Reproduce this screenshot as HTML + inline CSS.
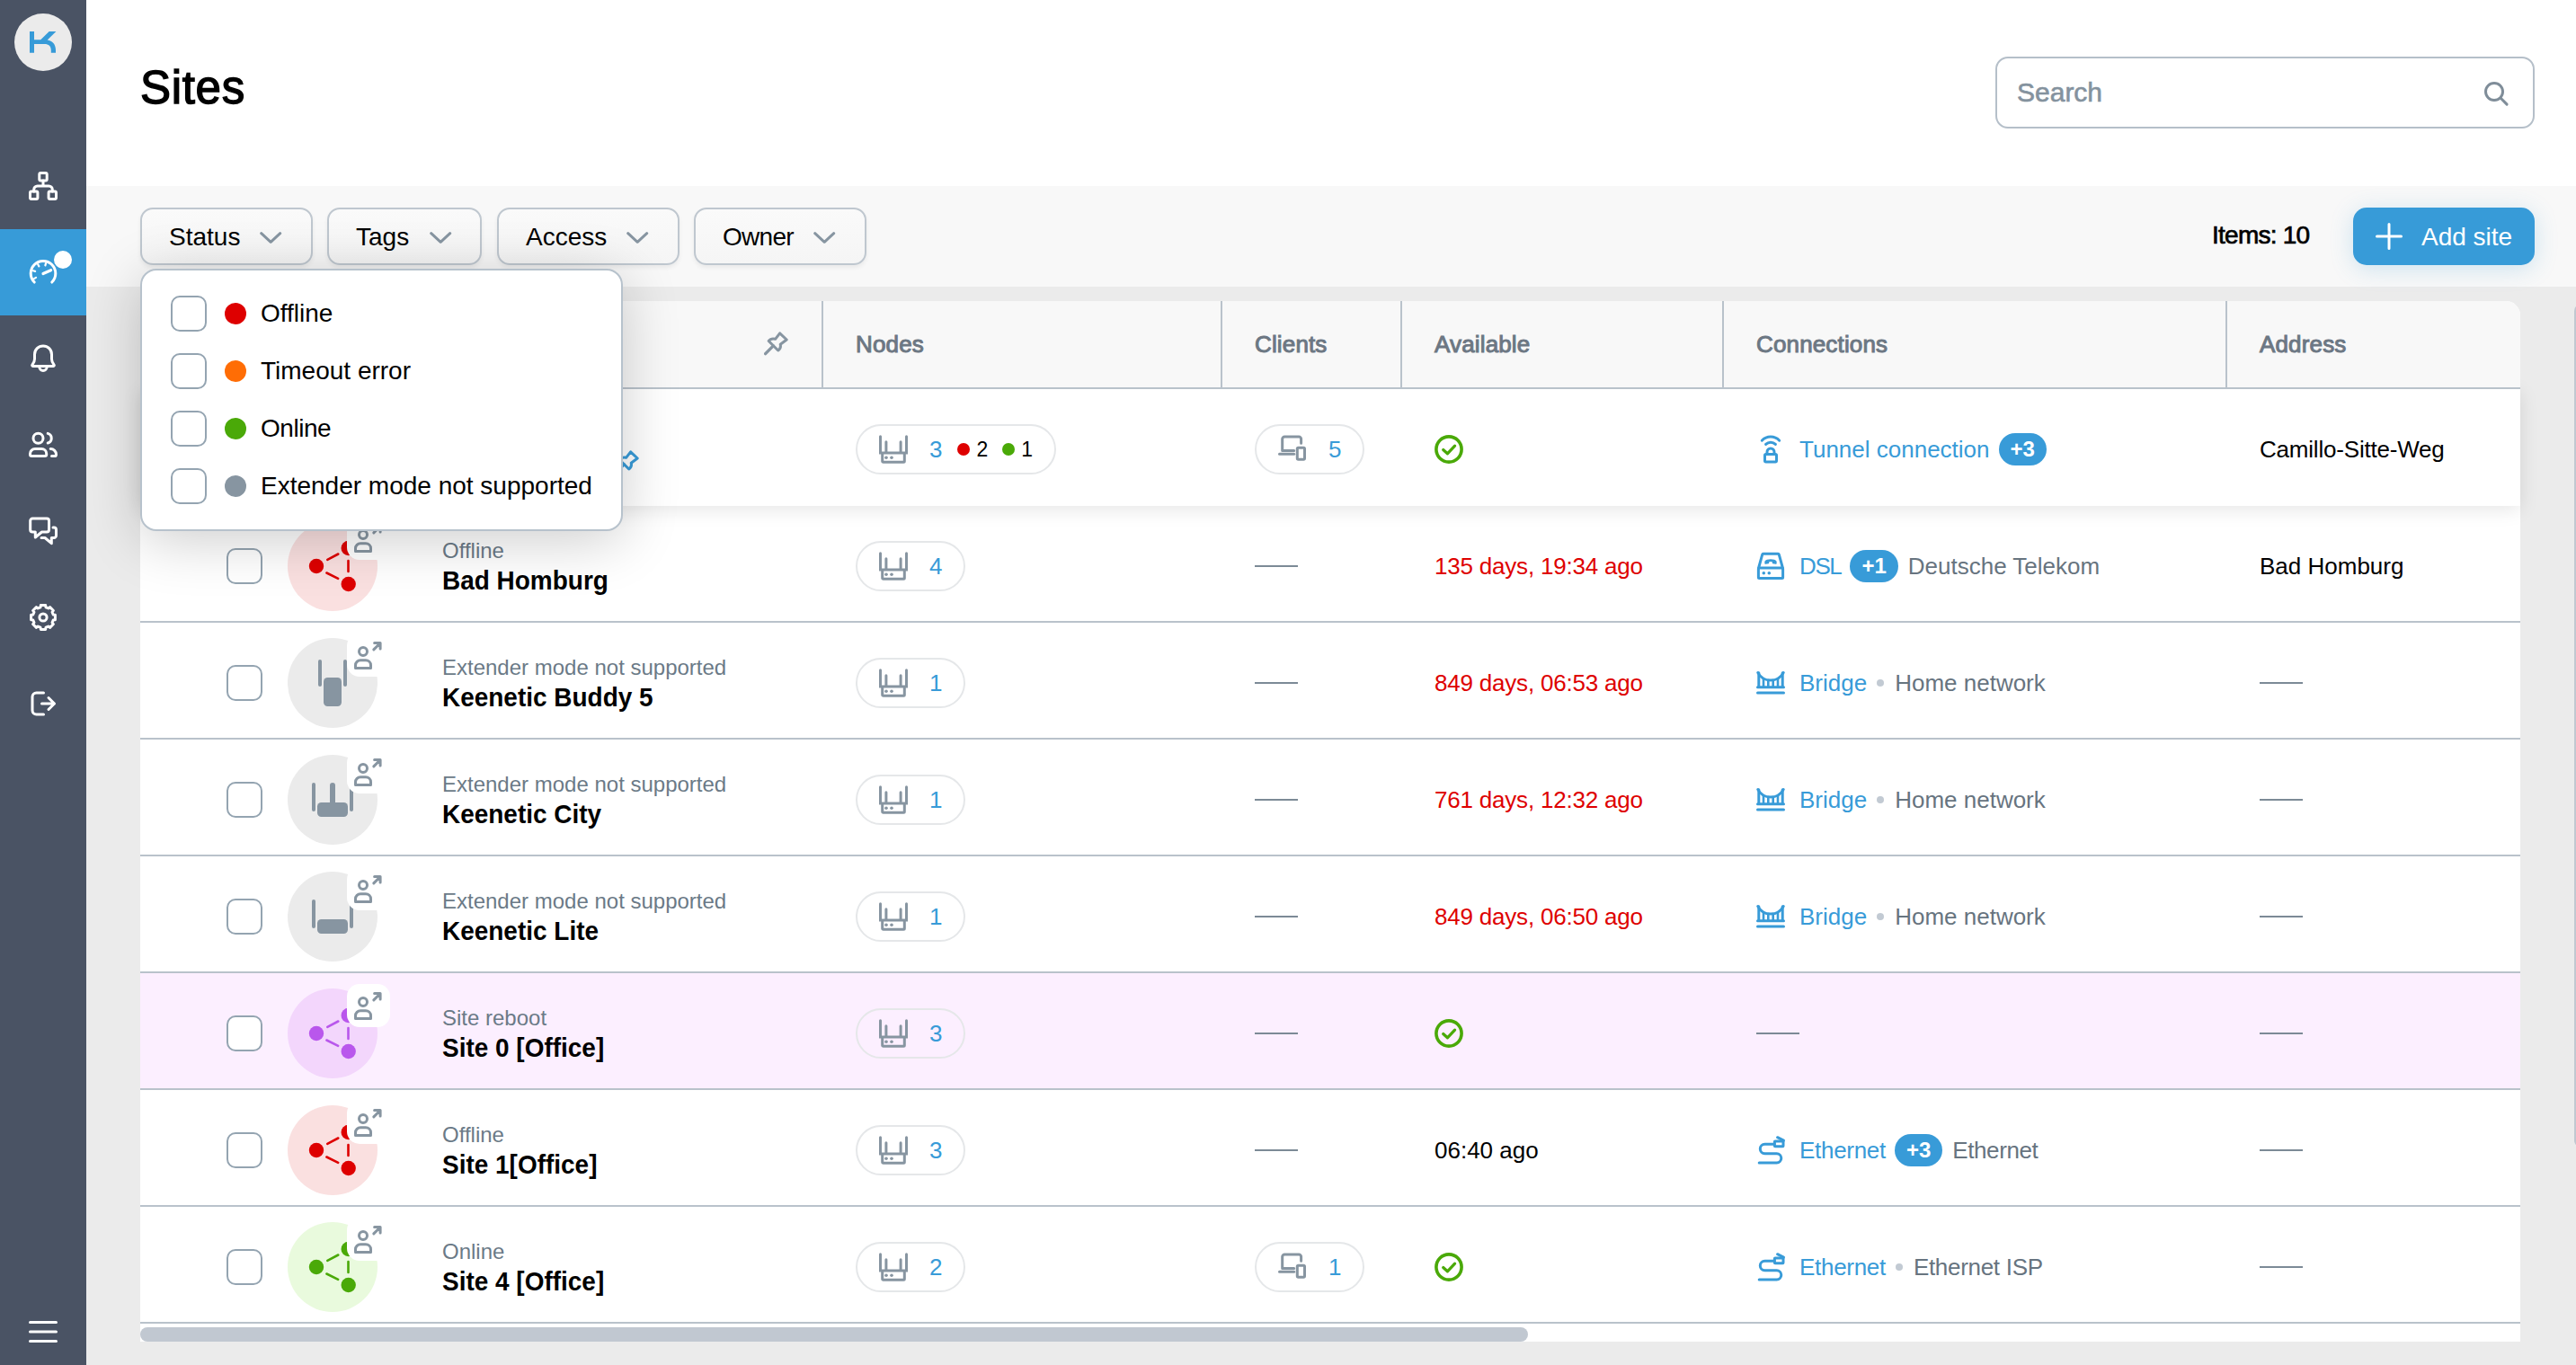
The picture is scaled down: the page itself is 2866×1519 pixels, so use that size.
<!DOCTYPE html>
<html lang="en"><head><meta charset="utf-8"><title>Sites</title>
<style>
*{box-sizing:border-box;margin:0;padding:0}
html,body{width:2866px;height:1519px;overflow:hidden}
body{background:#ebebeb;font-family:"Liberation Sans",sans-serif;color:#000;position:relative;-webkit-font-smoothing:antialiased}
.abs{position:absolute}
/* sidebar */
#side{position:absolute;left:0;top:0;width:96px;height:1519px;background:#4a5364}
#logo{position:absolute;left:16px;top:15px;width:64px;height:64px;border-radius:50%;background:#ebebeb}
.nav{position:absolute;left:0;width:96px;height:96px}
.nav svg{position:absolute;left:32px;top:32px}
.nav.on{background:#379bd8}
.ndot{position:absolute;left:60px;top:24px;width:20px;height:20px;border-radius:50%;background:#fff}
/* top */
#top{position:absolute;left:96px;top:0;width:2770px;height:207px;background:#fff}
h1{position:absolute;left:156px;top:68px;font-size:51px;line-height:60px;font-weight:normal;-webkit-text-stroke:1.4px #000;letter-spacing:.7px;white-space:nowrap}
#search{position:absolute;left:2220px;top:63px;width:600px;height:80px;border:2px solid #b5bfc9;border-radius:14px;background:#fff}
#search span{position:absolute;left:22px;top:18px;font-size:30px;line-height:40px;color:#84929e;-webkit-text-stroke:.6px #84929e;white-space:nowrap}
#search svg{position:absolute;left:540px;top:24px}
#bar{position:absolute;left:96px;top:207px;width:2770px;height:112px;background:#f8f8f8}
.fbtn{position:absolute;top:231px;height:64px;border:2px solid #bfc7cf;border-radius:14px;background:linear-gradient(#fafafa,#f5f5f5);box-shadow:0 3px 5px rgba(0,0,0,.06);font-size:28px;line-height:62px;white-space:nowrap;padding-left:30px}
.fbtn svg{position:absolute;top:24px}
#items{position:absolute;top:244px;left:2461px;font-size:28px;line-height:36px;-webkit-text-stroke:.7px #000;letter-spacing:-.75px;white-space:nowrap}
#add{position:absolute;left:2618px;top:231px;width:202px;height:64px;border-radius:15px;background:#379bd8;color:#fff;font-size:28px;line-height:64px;box-shadow:0 4px 26px rgba(55,155,216,.22);white-space:nowrap}
#add svg{position:absolute;left:24px;top:16px}
#add span{position:absolute;left:76px;top:1px}
/* table */
#tbl{position:absolute;left:156px;top:335px;width:2648px;height:1158px;background:#fff;border-radius:16px 16px 0 0}
#thead{position:absolute;z-index:5;left:0;top:0;width:2648px;height:98px;background:#f8f8f8;border-bottom:2px solid #b9c2cb;border-radius:16px 16px 0 0;overflow:hidden}
.th{position:absolute;top:0;height:96px;border-left:2px solid #b9c2cb;font-size:26px;line-height:96px;color:#6c7783;-webkit-text-stroke:1px #6c7783;letter-spacing:.15px;padding-left:36px;white-space:nowrap}
.row{position:absolute;left:0;width:2648px;height:130px;border-bottom:2px solid #b9c2cb;background:#fff}
.row.pin{box-shadow:0 4px 20px rgba(0,0,0,.1);z-index:3;border-bottom-color:transparent}
.row.rb{background:#fcefff}
.cell{position:absolute;top:6px;height:122px;display:flex;align-items:center;font-size:26px;white-space:nowrap}
.cb{position:absolute;left:96px;top:47px;width:40px;height:40px;border:2px solid #94a4b1;border-radius:10px;background:#fff}
.av{position:absolute;left:164px;top:17px;width:100px;height:100px;border-radius:50%}
.av svg{position:absolute;left:0;top:0}
.ob{position:absolute;left:230px;top:12px;width:48px;height:48px;border-radius:14px;background:#fff}
.ob svg{position:absolute;left:8px;top:8px}
.st{position:absolute;left:336px;top:36px;font-size:24px;line-height:28px;color:#6b7a87;white-space:nowrap}
.nm{position:absolute;left:336px;top:65px;font-size:30px;line-height:36px;font-weight:bold;transform:scaleX(.932);transform-origin:0 50%;white-space:nowrap}
.pill{display:flex;align-items:center;height:56px;border:2px solid #e5e7e9;border-radius:28px;padding:0 24px;font-size:26px}
.pill svg{margin-right:24px}
.pill .n{color:#389bd8}
.d{display:inline-block;width:14px;height:14px;border-radius:50%;margin:0 7px 0 16px}
.dash{display:block;width:48px;height:2px;background:#7c8a96}
.red{color:#de0000;letter-spacing:-.2px}
.sm{font-size:23px;color:#000}
.lnk{color:#389bd8;margin-left:16px}
.bdg{display:inline-block;height:36px;border-radius:18px;background:#389bd8;color:#fff;font-size:24px;font-weight:bold;line-height:36px;padding:0 13px;margin-left:10px}
.sub{color:#67747f;margin-left:11px}
.sep{display:inline-block;width:8px;height:8px;border-radius:50%;background:#c2cad3;margin:0 12px 0 11px}
.sep+.sub{margin-left:0}
/* dropdown */
#dd{position:absolute;left:156px;top:299px;width:537px;height:292px;border:2px solid #b7c2cc;border-radius:18px;background:#fff;box-shadow:0 10px 64px rgba(0,0,0,.2);z-index:10}
.opt{position:absolute;left:0;width:532px;height:64px;font-size:28px;line-height:64px;white-space:nowrap}
.opt i{position:absolute;left:32px;top:12px;width:40px;height:40px;border:2px solid #94a4b1;border-radius:10px;background:#fff}
.opt b{position:absolute;left:92px;top:20px;width:24px;height:24px;border-radius:50%}
.opt span{position:absolute;left:132px;top:0}
.opt span span{position:static}
#hs{position:absolute;left:0;top:1142px;width:1544px;height:16px;border-radius:8px;background:#c1c8d1}
#vs{position:absolute;left:2864px;top:338px;width:16px;height:939px;border-radius:8px;background:#c1c8d1}
</style></head>
<body>
<div id="side"><div id="logo"><svg width="64" height="64" viewBox="0 0 64 64" style="display:block;"><path fill="#379bd8" d="M17 20h5v9.200h7.200L38.700 20h7.700L36.700 29.400c5.600.800 9.300 4.800 9.300 11.400V43.700h-5.200v-2.600c0-4.600-2.600-7-7.300-7H22v9.600h-5z"/></svg></div><div class="nav" style="top:159px"><svg width="32" height="32" viewBox="0 0 32 32" style="display:block;"><g fill="none" stroke="#fff" stroke-width="3" stroke-linecap="round" stroke-linejoin="round"><rect x="11.8" y="1.5" width="8.4" height="8.4" rx="1.5"/><rect x="1.5" y="22.1" width="8.4" height="8.4" rx="1.5"/><rect x="22.1" y="22.1" width="8.4" height="8.4" rx="1.5"/><path d="M16 10v6M5.7 22v-2a4 4 0 0 1 4-4h12.6a4 4 0 0 1 4 4v2"/></g></svg></div><div class="nav on" style="top:255px"><svg width="32" height="32" viewBox="0 0 32 32" style="display:block;"><g fill="none" stroke="#fff" stroke-width="3" stroke-linecap="round" stroke-linejoin="round"><path d="M6.24 27.06A13.8 13.8 0 1 1 25.76 27.06"/><path d="M5.95 23.10L8.03 21.90" stroke-width="2.2"/><path d="M4.80 14.30L7.11 14.92" stroke-width="2.2"/><path d="M10.20 7.25L11.40 9.33" stroke-width="2.2"/><path d="M19.00 6.10L18.38 8.41" stroke-width="2.2"/><path d="M16 17.5L24.60 13.70" stroke-width="3.2"/></g></svg><div class="ndot"></div></div><div class="nav" style="top:351px"><svg width="32" height="32" viewBox="0 0 32 32" style="display:block;"><g fill="none" stroke="#fff" stroke-width="3" stroke-linecap="round" stroke-linejoin="round"><path d="M16 1.9a9.5 9.5 0 0 0-9.5 9.5v5c0 3-1.2 5-2.6 6.6a.9.9 0 0 0 .7 1.5h22.8a.9.9 0 0 0 .7-1.5c-1.4-1.600-2.600-3.600-2.600-6.600v-5a9.5 9.5 0 0 0-9.5-9.5z"/><path d="M11.800 25.200a4.200 4.200 0 0 0 8.400 0"/></g></svg></div><div class="nav" style="top:447px"><svg width="32" height="32" viewBox="0 0 32 32" style="display:block;"><g fill="none" stroke="#fff" stroke-width="3" stroke-linecap="round" stroke-linejoin="round"><circle cx="10.5" cy="8.7" r="5.5"/><path d="M3.300 28.500a1.800 1.800 0 0 1-1.800-1.800v-.8a5.400 5.400 0 0 1 5.400-5.400h7.400a5.400 5.400 0 0 1 5.400 5.400v.8a1.800 1.800 0 0 1-1.800 1.800z"/><path d="M21.200 3.400a5.500 5.500 0 0 1 0 10.600"/><path d="M24.200 20.600a6.200 6.200 0 0 1 6.300 6.300a1.600 1.600 0 0 1-1.600 1.600h-3.400"/></g></svg></div><div class="nav" style="top:543px"><svg width="32" height="32" viewBox="0 0 32 32" style="display:block;"><g fill="none" stroke="#fff" stroke-width="3" stroke-linecap="round" stroke-linejoin="round"><path d="M7.300 17H4.200a2.500 2.500 0 0 1-2.500-2.500V4.500a2.500 2.500 0 0 1 2.500-2.500h15.800a2.500 2.500 0 0 1 2.500 2.500v10a2.500 2.500 0 0 1-2.500 2.500h-5.500l-7.200 6z"/><path d="M27 12h1a2.500 2.500 0 0 1 2.500 2.500v6.500a2.500 2.500 0 0 1-2.500 2.500h-2.700v6.200l-7.300-6.200h-4"/></g></svg></div><div class="nav" style="top:639px"><svg width="32" height="32" viewBox="0 0 32 32" style="display:block;"><g fill="none" stroke="#fff" stroke-width="3" stroke-linecap="round" stroke-linejoin="round"><path d="M13.00 4.80L13.27 2.58L18.73 2.58L19.00 4.80L21.80 5.95L23.56 4.58L27.42 8.44L26.05 10.20L27.20 13.00L29.42 13.27L29.42 18.73L27.20 19.00L26.05 21.80L27.42 23.56L23.56 27.42L21.80 26.05L19.00 27.20L18.73 29.42L13.27 29.42L13.00 27.20L10.20 26.05L8.44 27.42L4.58 23.56L5.95 21.80L4.80 19.00L2.58 18.73L2.58 13.27L4.80 13.00L5.95 10.20L4.58 8.44L8.44 4.58L10.20 5.95z"/><circle cx="16" cy="16" r="4.1"/></g></svg></div><div class="nav" style="top:735px"><svg width="32" height="32" viewBox="0 0 32 32" style="display:block;"><g fill="none" stroke="#fff" stroke-width="3" stroke-linecap="round" stroke-linejoin="round"><path d="M16.500 4H8.500a4.500 4.500 0 0 0-4.500 4.500v15a4.500 4.500 0 0 0 4.500 4.500h8"/><path d="M14.500 16h14M22 9.500l6.500 6.500-6.500 6.500"/></g></svg></div><div class="nav" style="top:1434px"><svg width="32" height="32" viewBox="0 0 32 32" style="display:block;"><g fill="none" stroke="#fff" stroke-width="3" stroke-linecap="round" stroke-linejoin="round"><path d="M1.500 5.500h29M1.500 16h29M1.500 26.500h29"/></g></svg></div></div>
<div id="top"></div><h1>Sites</h1><div id="search"><span>Search</span><svg width="32" height="32" viewBox="0 0 32 32" style="display:block;"><g fill="none" stroke="#7f8d99" stroke-width="3" stroke-linecap="round" stroke-linejoin="round"><circle cx="13" cy="13" r="9.500"/><path d="M20.300 20.300l6.800 6.800"/></g></svg></div><div id="bar"></div>
<div class="fbtn" style="left:156px;width:192px">Status<span style="position:absolute;left:130px;top:0"><svg width="25" height="13" viewBox="0 0 25 13" style="display:block;position:absolute;top:25px;left:1px;"><g fill="none" stroke="#8795a1" stroke-width="3" stroke-linecap="round" stroke-linejoin="round"><path d="M1.700 1.700l10.500 9.600 10.500-9.600"/></g></svg></span></div><div class="fbtn" style="left:364px;width:172px">Tags<span style="position:absolute;left:111px;top:0"><svg width="25" height="13" viewBox="0 0 25 13" style="display:block;position:absolute;top:25px;left:1px;"><g fill="none" stroke="#8795a1" stroke-width="3" stroke-linecap="round" stroke-linejoin="round"><path d="M1.700 1.700l10.500 9.600 10.500-9.600"/></g></svg></span></div><div class="fbtn" style="left:553px;width:203px">Access<span style="position:absolute;left:141px;top:0"><svg width="25" height="13" viewBox="0 0 25 13" style="display:block;position:absolute;top:25px;left:1px;"><g fill="none" stroke="#8795a1" stroke-width="3" stroke-linecap="round" stroke-linejoin="round"><path d="M1.700 1.700l10.500 9.600 10.500-9.600"/></g></svg></span></div><div class="fbtn" style="left:772px;width:192px"><span style="letter-spacing:-.7px">Owner</span><span style="position:absolute;left:130px;top:0"><svg width="25" height="13" viewBox="0 0 25 13" style="display:block;position:absolute;top:25px;left:1px;"><g fill="none" stroke="#8795a1" stroke-width="3" stroke-linecap="round" stroke-linejoin="round"><path d="M1.700 1.700l10.500 9.600 10.500-9.600"/></g></svg></span></div><div id="items">Items: 10</div><div id="add"><svg width="32" height="32" viewBox="0 0 32 32" style="display:block;"><g fill="none" stroke="#fff" stroke-width="3" stroke-linecap="round" stroke-linejoin="round"><path d="M16 2.500v27M2.500 16h27"/></g></svg><span>Add site</span></div>
<div id="tbl"><div id="thead"><div class="abs" style="left:694px;top:34px"><svg width="28" height="28" viewBox="0 0 28 28" style="display:block;"><g fill="none" stroke="#8795a1" stroke-width="3" stroke-linecap="round" stroke-linejoin="round"><path d="M17.600 1.800l7.600 7.200-7 5.200c.700 2.700-.200 5.200-2.500 6.800L5.200 10.500c1.800-2.400 4.800-2.900 7.400-2.200z"/><path d="M10.300 15.900L1.600 24.600" stroke-width="3.4"/></g></svg></div><div class="th" style="left:758px;width:444px">Nodes</div><div class="th" style="left:1202px;width:200px">Clients</div><div class="th" style="left:1402px;width:358px">Available</div><div class="th" style="left:1760px;width:560px">Connections</div><div class="th" style="left:2320px;width:328px">Address</div></div><div class="row pin" style="top:98px"><div class="cb"></div><div class="av" style="background:#e9fadd"><svg width="100" height="100" viewBox="0 0 100 100" style="display:block;"><g fill="#4aa908"><circle cx="32" cy="50" r="8.200"/><circle cx="67.700" cy="30" r="8.200"/><circle cx="67.700" cy="70" r="8.200"/></g><g stroke="#4aa908" stroke-width="2.600" stroke-linecap="round"><path d="M44.300 42.800l12-6.300M43.400 57.500l12.800 6.300M67.500 44v12"/></g></svg></div><div class="ob"><svg width="32" height="32" viewBox="0 0 32 32" style="display:block;"><g fill="none" stroke="#8795a1" stroke-width="3" stroke-linecap="round" stroke-linejoin="round"><circle cx="10" cy="11.900" r="4.500"/><path d="M1.500 30.500v-3.200a5.600 5.600 0 0 1 5.600-5.600h5.800a5.600 5.600 0 0 1 5.600 5.600v3.200z"/><path d="M21.800 9.900l7.200-7.200M22.600 2.600h6.500v6.500"/></g></svg></div><div class="abs" style="left:528px;top:68px"><svg width="28" height="28" viewBox="0 0 28 28" style="display:block;"><g fill="none" stroke="#389bd8" stroke-width="3" stroke-linecap="round" stroke-linejoin="round"><path d="M17.600 1.800l7.600 7.200-7 5.200c.700 2.700-.200 5.200-2.500 6.800L5.200 10.500c1.800-2.400 4.800-2.900 7.400-2.200z"/><path d="M10.300 15.900L1.600 24.600" stroke-width="3.4"/></g></svg></div><div class="cell" style="left:796px"><div class="pill"><svg width="32" height="32" viewBox="0 0 32 32" style="display:block;"><g fill="none" stroke="#8795a1" stroke-width="3" stroke-linecap="round" stroke-linejoin="round"><path d="M1.500 1.700v18.300h29V1.700M7.900 7.700v12M24.100 7.700v12" stroke-linejoin="miter"/><path d="M3.700 20v9.200a1 1 0 0 0 1 1h22.600a1 1 0 0 0 1-1V20" stroke-linecap="butt"/></g><circle cx="8" cy="25.200" r="1.800" fill="#8795a1"/><circle cx="14" cy="25.200" r="1.800" fill="#8795a1"/></svg><span class="n">3</span><span class="d" style="background:#de0000;margin-left:17px"></span><span class="sm">2</span><span class="d" style="background:#4aa908"></span><span class="sm">1</span></div></div><div class="cell" style="left:1240px"><div class="pill"><svg width="32" height="32" viewBox="0 0 32 32" style="display:block;"><g fill="none" stroke="#8795a1" stroke-width="3" stroke-linecap="round" stroke-linejoin="round"><path d="M25.600 9.300V4.500a2.500 2.500 0 0 0-2.500-2.500H7.200a2.500 2.500 0 0 0-2.500 2.500v12.900h13"/><path d="M1.500 21.200h16.200"/><rect x="21.300" y="14.300" width="8.200" height="13" rx="1.200"/></g></svg><span class="n">5</span></div></div><div class="cell" style="left:1440px"><svg width="32" height="32" viewBox="0 0 32 32" style="display:block;"><g fill="none" stroke="#4aa908" stroke-width="3.6" stroke-linecap="round" stroke-linejoin="round"><circle cx="16" cy="16" r="14.100"/><path d="M9.700 16.500l4.700 4.300 8.200-8.700" stroke-width="3.200"/></g></svg></div><div class="cell" style="left:1798px"><svg width="32" height="32" viewBox="0 0 32 32" style="display:block;"><g fill="none" stroke="#389bd8" stroke-width="3" stroke-linecap="round" stroke-linejoin="round"><path d="M6.300 6.200a13.500 13.500 0 0 1 19.400 0"/><path d="M10.600 10.400a7.800 7.800 0 0 1 10.800 0"/><rect x="9.500" y="21.500" width="13" height="8.500" rx="1.200"/><path d="M12 21.300v-2.300a4 4 0 0 1 8 0v2.300"/></g></svg><span class="lnk">Tunnel connection</span><span class="bdg">+3</span></div><div class="cell" style="left:2358px"><span style="letter-spacing:-.2px">Camillo-Sitte-Weg</span></div></div><div class="row " style="top:228px"><div class="cb"></div><div class="av" style="background:#fae0e0"><svg width="100" height="100" viewBox="0 0 100 100" style="display:block;"><g fill="#de0000"><circle cx="32" cy="50" r="8.200"/><circle cx="67.700" cy="30" r="8.200"/><circle cx="67.700" cy="70" r="8.200"/></g><g stroke="#de0000" stroke-width="2.600" stroke-linecap="round"><path d="M44.300 42.800l12-6.300M43.400 57.500l12.800 6.300M67.500 44v12"/></g></svg></div><div class="ob"><svg width="32" height="32" viewBox="0 0 32 32" style="display:block;"><g fill="none" stroke="#8795a1" stroke-width="3" stroke-linecap="round" stroke-linejoin="round"><circle cx="10" cy="11.900" r="4.500"/><path d="M1.500 30.500v-3.200a5.600 5.600 0 0 1 5.600-5.600h5.800a5.600 5.600 0 0 1 5.600 5.600v3.200z"/><path d="M21.800 9.900l7.200-7.200M22.600 2.600h6.500v6.500"/></g></svg></div><div class="st">Offline</div><div class="nm">Bad Homburg</div><div class="cell" style="left:796px"><div class="pill"><svg width="32" height="32" viewBox="0 0 32 32" style="display:block;"><g fill="none" stroke="#8795a1" stroke-width="3" stroke-linecap="round" stroke-linejoin="round"><path d="M1.500 1.700v18.300h29V1.700M7.900 7.700v12M24.100 7.700v12" stroke-linejoin="miter"/><path d="M3.700 20v9.200a1 1 0 0 0 1 1h22.600a1 1 0 0 0 1-1V20" stroke-linecap="butt"/></g><circle cx="8" cy="25.200" r="1.800" fill="#8795a1"/><circle cx="14" cy="25.200" r="1.800" fill="#8795a1"/></svg><span class="n">4</span></div></div><div class="cell" style="left:1240px"><span class="dash"></span></div><div class="cell" style="left:1440px"><span class="red">135 days, 19:34 ago</span></div><div class="cell" style="left:1798px"><svg width="32" height="32" viewBox="0 0 32 32" style="display:block;"><g fill="none" stroke="#389bd8" stroke-width="3" stroke-linecap="round" stroke-linejoin="round"><path d="M2.600 18L6.700 3.200a1.200 1.200 0 0 1 1.200-.900h16.200a1.200 1.200 0 0 1 1.200.900L29.400 18"/><rect x="2.400" y="18" width="27.200" height="11.600" rx="1"/><path d="M10.200 13c-.500-2 .300-3 2-3.500 2.500-.700 5.100-.700 7.600 0 1.700.500 2.500 1.500 2 3.500l-3.200-.600-.300-1.800c-1.500-.400-3.100-.400-4.600 0l-.300 1.800z" stroke-width="1.600" fill="#389bd8"/></g><circle cx="8.300" cy="23.800" r="1.800" fill="#389bd8"/><circle cx="14.300" cy="23.800" r="1.800" fill="#389bd8"/></svg><span class="lnk"><span style="letter-spacing:-1.4px">DSL</span></span><span class="bdg">+1</span><span class="sub">Deutsche Telekom</span></div><div class="cell" style="left:2358px">Bad Homburg</div></div><div class="row " style="top:358px"><div class="cb"></div><div class="av" style="background:#ebebeb"><svg width="100" height="100" viewBox="0 0 100 100" style="display:block;"><g fill="#8795a1"><rect x="34" y="24" width="4" height="30" rx="2"/><rect x="62" y="24" width="4" height="30" rx="2"/><rect x="40" y="44" width="20" height="32" rx="4.500"/></g></svg></div><div class="ob"><svg width="32" height="32" viewBox="0 0 32 32" style="display:block;"><g fill="none" stroke="#8795a1" stroke-width="3" stroke-linecap="round" stroke-linejoin="round"><circle cx="10" cy="11.900" r="4.500"/><path d="M1.500 30.500v-3.200a5.600 5.600 0 0 1 5.600-5.600h5.800a5.600 5.600 0 0 1 5.600 5.600v3.200z"/><path d="M21.800 9.900l7.200-7.200M22.600 2.600h6.500v6.500"/></g></svg></div><div class="st">Extender mode not supported</div><div class="nm">Keenetic Buddy 5</div><div class="cell" style="left:796px"><div class="pill"><svg width="32" height="32" viewBox="0 0 32 32" style="display:block;"><g fill="none" stroke="#8795a1" stroke-width="3" stroke-linecap="round" stroke-linejoin="round"><path d="M1.500 1.700v18.300h29V1.700M7.900 7.700v12M24.100 7.700v12" stroke-linejoin="miter"/><path d="M3.700 20v9.200a1 1 0 0 0 1 1h22.600a1 1 0 0 0 1-1V20" stroke-linecap="butt"/></g><circle cx="8" cy="25.200" r="1.800" fill="#8795a1"/><circle cx="14" cy="25.200" r="1.800" fill="#8795a1"/></svg><span class="n">1</span></div></div><div class="cell" style="left:1240px"><span class="dash"></span></div><div class="cell" style="left:1440px"><span class="red">849 days, 06:53 ago</span></div><div class="cell" style="left:1798px"><svg width="32" height="32" viewBox="0 0 32 32" style="display:block;"><g fill="none" stroke="#389bd8" stroke-width="3" stroke-linecap="round" stroke-linejoin="round"><path d="M1.500 27h29M1.500 20.700h29" /><path d="M2.800 4.800v15.500M29.200 4.800v15.500"/><path d="M1.800 4.600C5 10.500 10 13 16 13s11-2.500 14.200-8.400"/><path d="M8 11v9.500M13.300 13v7.500M18.700 13v7.500M24 11v9.500" stroke-width="2.600"/></g></svg><span class="lnk">Bridge</span><span class="sep"></span><span class="sub">Home network</span></div><div class="cell" style="left:2358px"><span class="dash"></span></div></div><div class="row " style="top:488px"><div class="cb"></div><div class="av" style="background:#ebebeb"><svg width="100" height="100" viewBox="0 0 100 100" style="display:block;"><g fill="#8795a1"><rect x="27" y="31" width="4" height="32" rx="2"/><rect x="69" y="31" width="4" height="32" rx="2"/><rect x="47" y="31" width="6" height="26" rx="3"/><rect x="33" y="53" width="34" height="16" rx="4.500"/></g></svg></div><div class="ob"><svg width="32" height="32" viewBox="0 0 32 32" style="display:block;"><g fill="none" stroke="#8795a1" stroke-width="3" stroke-linecap="round" stroke-linejoin="round"><circle cx="10" cy="11.900" r="4.500"/><path d="M1.500 30.500v-3.200a5.600 5.600 0 0 1 5.600-5.600h5.800a5.600 5.600 0 0 1 5.600 5.600v3.200z"/><path d="M21.800 9.900l7.200-7.200M22.600 2.600h6.500v6.500"/></g></svg></div><div class="st">Extender mode not supported</div><div class="nm">Keenetic City</div><div class="cell" style="left:796px"><div class="pill"><svg width="32" height="32" viewBox="0 0 32 32" style="display:block;"><g fill="none" stroke="#8795a1" stroke-width="3" stroke-linecap="round" stroke-linejoin="round"><path d="M1.500 1.700v18.300h29V1.700M7.900 7.700v12M24.100 7.700v12" stroke-linejoin="miter"/><path d="M3.700 20v9.200a1 1 0 0 0 1 1h22.600a1 1 0 0 0 1-1V20" stroke-linecap="butt"/></g><circle cx="8" cy="25.200" r="1.800" fill="#8795a1"/><circle cx="14" cy="25.200" r="1.800" fill="#8795a1"/></svg><span class="n">1</span></div></div><div class="cell" style="left:1240px"><span class="dash"></span></div><div class="cell" style="left:1440px"><span class="red">761 days, 12:32 ago</span></div><div class="cell" style="left:1798px"><svg width="32" height="32" viewBox="0 0 32 32" style="display:block;"><g fill="none" stroke="#389bd8" stroke-width="3" stroke-linecap="round" stroke-linejoin="round"><path d="M1.500 27h29M1.500 20.700h29" /><path d="M2.800 4.800v15.500M29.200 4.800v15.500"/><path d="M1.800 4.600C5 10.500 10 13 16 13s11-2.500 14.200-8.400"/><path d="M8 11v9.500M13.300 13v7.500M18.700 13v7.500M24 11v9.500" stroke-width="2.600"/></g></svg><span class="lnk">Bridge</span><span class="sep"></span><span class="sub">Home network</span></div><div class="cell" style="left:2358px"><span class="dash"></span></div></div><div class="row " style="top:618px"><div class="cb"></div><div class="av" style="background:#ebebeb"><svg width="100" height="100" viewBox="0 0 100 100" style="display:block;"><g fill="#8795a1"><rect x="27" y="31" width="4" height="32" rx="2"/><rect x="69" y="31" width="4" height="32" rx="2"/><rect x="33" y="53" width="34" height="16" rx="4.500"/></g></svg></div><div class="ob"><svg width="32" height="32" viewBox="0 0 32 32" style="display:block;"><g fill="none" stroke="#8795a1" stroke-width="3" stroke-linecap="round" stroke-linejoin="round"><circle cx="10" cy="11.900" r="4.500"/><path d="M1.500 30.500v-3.200a5.600 5.600 0 0 1 5.600-5.600h5.800a5.600 5.600 0 0 1 5.600 5.600v3.200z"/><path d="M21.800 9.900l7.200-7.200M22.600 2.600h6.500v6.500"/></g></svg></div><div class="st">Extender mode not supported</div><div class="nm">Keenetic Lite</div><div class="cell" style="left:796px"><div class="pill"><svg width="32" height="32" viewBox="0 0 32 32" style="display:block;"><g fill="none" stroke="#8795a1" stroke-width="3" stroke-linecap="round" stroke-linejoin="round"><path d="M1.500 1.700v18.300h29V1.700M7.900 7.700v12M24.100 7.700v12" stroke-linejoin="miter"/><path d="M3.700 20v9.200a1 1 0 0 0 1 1h22.600a1 1 0 0 0 1-1V20" stroke-linecap="butt"/></g><circle cx="8" cy="25.200" r="1.800" fill="#8795a1"/><circle cx="14" cy="25.200" r="1.800" fill="#8795a1"/></svg><span class="n">1</span></div></div><div class="cell" style="left:1240px"><span class="dash"></span></div><div class="cell" style="left:1440px"><span class="red">849 days, 06:50 ago</span></div><div class="cell" style="left:1798px"><svg width="32" height="32" viewBox="0 0 32 32" style="display:block;"><g fill="none" stroke="#389bd8" stroke-width="3" stroke-linecap="round" stroke-linejoin="round"><path d="M1.500 27h29M1.500 20.700h29" /><path d="M2.800 4.800v15.500M29.200 4.800v15.500"/><path d="M1.800 4.600C5 10.500 10 13 16 13s11-2.500 14.200-8.400"/><path d="M8 11v9.500M13.300 13v7.500M18.700 13v7.500M24 11v9.500" stroke-width="2.600"/></g></svg><span class="lnk">Bridge</span><span class="sep"></span><span class="sub">Home network</span></div><div class="cell" style="left:2358px"><span class="dash"></span></div></div><div class="row rb" style="top:748px"><div class="cb"></div><div class="av" style="background:#f3d6fc"><svg width="100" height="100" viewBox="0 0 100 100" style="display:block;"><g fill="#b957ec"><circle cx="32" cy="50" r="8.200"/><circle cx="67.700" cy="30" r="8.200"/><circle cx="67.700" cy="70" r="8.200"/></g><g stroke="#b957ec" stroke-width="2.600" stroke-linecap="round"><path d="M44.300 42.800l12-6.300M43.400 57.500l12.800 6.300M67.500 44v12"/></g></svg></div><div class="ob"><svg width="32" height="32" viewBox="0 0 32 32" style="display:block;"><g fill="none" stroke="#8795a1" stroke-width="3" stroke-linecap="round" stroke-linejoin="round"><circle cx="10" cy="11.900" r="4.500"/><path d="M1.500 30.500v-3.200a5.600 5.600 0 0 1 5.600-5.600h5.800a5.600 5.600 0 0 1 5.600 5.600v3.200z"/><path d="M21.800 9.900l7.200-7.200M22.600 2.600h6.500v6.500"/></g></svg></div><div class="st">Site reboot</div><div class="nm">Site 0 [Office]</div><div class="cell" style="left:796px"><div class="pill"><svg width="32" height="32" viewBox="0 0 32 32" style="display:block;"><g fill="none" stroke="#8795a1" stroke-width="3" stroke-linecap="round" stroke-linejoin="round"><path d="M1.500 1.700v18.300h29V1.700M7.900 7.700v12M24.100 7.700v12" stroke-linejoin="miter"/><path d="M3.700 20v9.200a1 1 0 0 0 1 1h22.600a1 1 0 0 0 1-1V20" stroke-linecap="butt"/></g><circle cx="8" cy="25.200" r="1.800" fill="#8795a1"/><circle cx="14" cy="25.200" r="1.800" fill="#8795a1"/></svg><span class="n">3</span></div></div><div class="cell" style="left:1240px"><span class="dash"></span></div><div class="cell" style="left:1440px"><svg width="32" height="32" viewBox="0 0 32 32" style="display:block;"><g fill="none" stroke="#4aa908" stroke-width="3.6" stroke-linecap="round" stroke-linejoin="round"><circle cx="16" cy="16" r="14.100"/><path d="M9.700 16.500l4.700 4.300 8.200-8.700" stroke-width="3.200"/></g></svg></div><div class="cell" style="left:1798px"><span class="dash"></span></div><div class="cell" style="left:2358px"><span class="dash"></span></div></div><div class="row " style="top:878px"><div class="cb"></div><div class="av" style="background:#fae0e0"><svg width="100" height="100" viewBox="0 0 100 100" style="display:block;"><g fill="#de0000"><circle cx="32" cy="50" r="8.200"/><circle cx="67.700" cy="30" r="8.200"/><circle cx="67.700" cy="70" r="8.200"/></g><g stroke="#de0000" stroke-width="2.600" stroke-linecap="round"><path d="M44.300 42.800l12-6.300M43.400 57.500l12.800 6.300M67.500 44v12"/></g></svg></div><div class="ob"><svg width="32" height="32" viewBox="0 0 32 32" style="display:block;"><g fill="none" stroke="#8795a1" stroke-width="3" stroke-linecap="round" stroke-linejoin="round"><circle cx="10" cy="11.900" r="4.500"/><path d="M1.500 30.500v-3.200a5.600 5.600 0 0 1 5.600-5.600h5.800a5.600 5.600 0 0 1 5.600 5.600v3.200z"/><path d="M21.800 9.900l7.200-7.200M22.600 2.600h6.500v6.500"/></g></svg></div><div class="st">Offline</div><div class="nm">Site 1[Office]</div><div class="cell" style="left:796px"><div class="pill"><svg width="32" height="32" viewBox="0 0 32 32" style="display:block;"><g fill="none" stroke="#8795a1" stroke-width="3" stroke-linecap="round" stroke-linejoin="round"><path d="M1.500 1.700v18.300h29V1.700M7.900 7.700v12M24.100 7.700v12" stroke-linejoin="miter"/><path d="M3.700 20v9.200a1 1 0 0 0 1 1h22.600a1 1 0 0 0 1-1V20" stroke-linecap="butt"/></g><circle cx="8" cy="25.200" r="1.800" fill="#8795a1"/><circle cx="14" cy="25.200" r="1.800" fill="#8795a1"/></svg><span class="n">3</span></div></div><div class="cell" style="left:1240px"><span class="dash"></span></div><div class="cell" style="left:1440px">06:40 ago</div><div class="cell" style="left:1798px"><svg width="32" height="32" viewBox="0 0 32 32" style="display:block;"><g fill="none" stroke="#389bd8" stroke-width="3" stroke-linecap="round" stroke-linejoin="round"><path d="M3.200 29.900H22.700a5.100 5.100 0 0 0 0-10.200H9.500a5.200 5.200 0 0 1 0-10.400H19"/><rect x="20.400" y="6" width="9.600" height="5.800" rx=".600"/><path d="M23.600 1.700l6.800 3.500"/></g></svg><span class="lnk"><span style="letter-spacing:-.3px">Ethernet</span></span><span class="bdg">+3</span><span class="sub"><span style="letter-spacing:-.4px">Ethernet</span></span></div><div class="cell" style="left:2358px"><span class="dash"></span></div></div><div class="row " style="top:1008px"><div class="cb"></div><div class="av" style="background:#e9fadd"><svg width="100" height="100" viewBox="0 0 100 100" style="display:block;"><g fill="#4aa908"><circle cx="32" cy="50" r="8.200"/><circle cx="67.700" cy="30" r="8.200"/><circle cx="67.700" cy="70" r="8.200"/></g><g stroke="#4aa908" stroke-width="2.600" stroke-linecap="round"><path d="M44.300 42.800l12-6.300M43.400 57.500l12.800 6.300M67.500 44v12"/></g></svg></div><div class="ob"><svg width="32" height="32" viewBox="0 0 32 32" style="display:block;"><g fill="none" stroke="#8795a1" stroke-width="3" stroke-linecap="round" stroke-linejoin="round"><circle cx="10" cy="11.900" r="4.500"/><path d="M1.500 30.500v-3.200a5.600 5.600 0 0 1 5.600-5.600h5.800a5.600 5.600 0 0 1 5.600 5.600v3.200z"/><path d="M21.800 9.900l7.200-7.200M22.600 2.600h6.500v6.500"/></g></svg></div><div class="st">Online</div><div class="nm">Site 4 [Office]</div><div class="cell" style="left:796px"><div class="pill"><svg width="32" height="32" viewBox="0 0 32 32" style="display:block;"><g fill="none" stroke="#8795a1" stroke-width="3" stroke-linecap="round" stroke-linejoin="round"><path d="M1.500 1.700v18.300h29V1.700M7.900 7.700v12M24.100 7.700v12" stroke-linejoin="miter"/><path d="M3.700 20v9.200a1 1 0 0 0 1 1h22.600a1 1 0 0 0 1-1V20" stroke-linecap="butt"/></g><circle cx="8" cy="25.200" r="1.800" fill="#8795a1"/><circle cx="14" cy="25.200" r="1.800" fill="#8795a1"/></svg><span class="n">2</span></div></div><div class="cell" style="left:1240px"><div class="pill"><svg width="32" height="32" viewBox="0 0 32 32" style="display:block;"><g fill="none" stroke="#8795a1" stroke-width="3" stroke-linecap="round" stroke-linejoin="round"><path d="M25.600 9.300V4.500a2.500 2.500 0 0 0-2.500-2.500H7.200a2.500 2.500 0 0 0-2.500 2.500v12.900h13"/><path d="M1.500 21.200h16.200"/><rect x="21.300" y="14.300" width="8.200" height="13" rx="1.200"/></g></svg><span class="n">1</span></div></div><div class="cell" style="left:1440px"><svg width="32" height="32" viewBox="0 0 32 32" style="display:block;"><g fill="none" stroke="#4aa908" stroke-width="3.6" stroke-linecap="round" stroke-linejoin="round"><circle cx="16" cy="16" r="14.100"/><path d="M9.700 16.500l4.700 4.300 8.200-8.700" stroke-width="3.200"/></g></svg></div><div class="cell" style="left:1798px"><svg width="32" height="32" viewBox="0 0 32 32" style="display:block;"><g fill="none" stroke="#389bd8" stroke-width="3" stroke-linecap="round" stroke-linejoin="round"><path d="M3.200 29.900H22.700a5.100 5.100 0 0 0 0-10.200H9.500a5.200 5.200 0 0 1 0-10.400H19"/><rect x="20.400" y="6" width="9.600" height="5.800" rx=".600"/><path d="M23.600 1.700l6.800 3.500"/></g></svg><span class="lnk"><span style="letter-spacing:-.3px">Ethernet</span></span><span class="sep"></span><span class="sub"><span style="letter-spacing:-.3px">Ethernet ISP</span></span></div><div class="cell" style="left:2358px"><span class="dash"></span></div></div><div id="hs"></div></div>
<div id="dd"><div class="opt" style="top:16px"><i></i><b style="background:#de0000"></b><span>Offline</span></div><div class="opt" style="top:80px"><i></i><b style="background:#ff6d05"></b><span>Timeout error</span></div><div class="opt" style="top:144px"><i></i><b style="background:#4aa908"></b><span><span style="position:static;letter-spacing:-.45px">Online</span></span></div><div class="opt" style="top:208px"><i></i><b style="background:#8795a1"></b><span>Extender mode not supported</span></div></div>
<div id="vs"></div>
</body></html>
